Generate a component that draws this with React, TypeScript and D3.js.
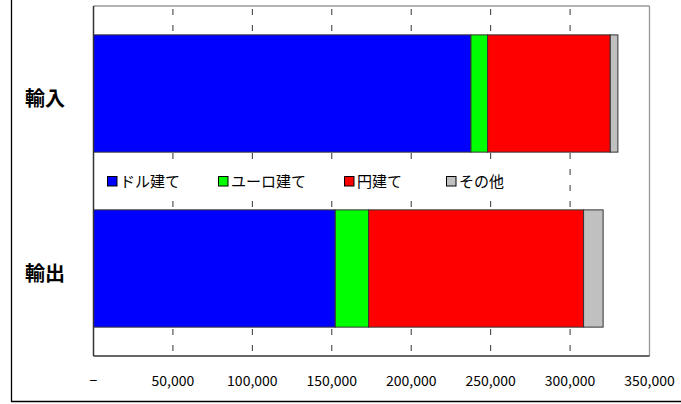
import React from "react";
import * as d3 from "d3";

const categories = ["輸入", "輸出"];
const seriesNames = ["ドル建て", "ユーロ建て", "円建て", "その他"];
const dollarValues = [237600, 152200];
const euroValues = [10500, 21000];
const yenValues = [77200, 135300];
const otherValues = [4800, 12300];
const seriesColors = ["#0000FF", "#00FF00", "#FF0000", "#C0C0C0"];
const tickValues = [0, 50000, 100000, 150000, 200000, 250000, 300000, 350000];

const W = 681;
const H = 404;
const M = { left: 93.5, right: 649.5, top: 6, bottom: 356 };
const FONT = "'Noto Sans CJK JP', 'Noto Sans', sans-serif";
const legendX = [107, 218, 344, 446];

export default function App() {
  const x = d3.scaleLinear().domain([0, 350000]).range([M.left, M.right]);
  const y = d3
    .scaleBand<string>()
    .domain(categories)
    .range([M.top, M.bottom])
    .paddingInner(0.33)
    .paddingOuter(0.165);

  const rows = categories.map((c, i) => ({
    cat: c,
    "ドル建て": dollarValues[i],
    "ユーロ建て": euroValues[i],
    "円建て": yenValues[i],
    "その他": otherValues[i],
  }));
  const stacked = d3.stack<any>().keys(seriesNames)(rows);
  const fmt = (v: number) => (v === 0 ? "−" : d3.format(",")(v));

  return (
    <svg
      width={W}
      height={H}
      style={{ position: "absolute", left: 0, top: 0, background: "#fff" }}
      fontFamily={FONT}
    >
      <rect x={0} y={0} width={W} height={H} fill="#fff" />
      {/* outer frame */}
      <line x1={11.5} y1={0} x2={11.5} y2={401.5} stroke="#000" strokeWidth={1.3} />
      <line x1={11} y1={401.5} x2={W} y2={401.5} stroke="#000" strokeWidth={1.3} />

      {/* gridlines */}
      {tickValues.slice(1, -1).map((t) => (
        <line
          key={t}
          x1={x(t)}
          x2={x(t)}
          y1={M.top}
          y2={M.bottom}
          stroke="#333"
          strokeWidth={1}
          strokeDasharray="6,10"
          strokeDashoffset={-3}
        />
      ))}

      {/* plot border */}
      <line x1={M.left} x2={M.right} y1={M.top} y2={M.top} stroke="#999" strokeWidth={1.3} />
      <line x1={M.right} x2={M.right} y1={M.top} y2={M.bottom} stroke="#999" strokeWidth={1.3} />

      {/* bars */}
      {stacked.map((s, si) =>
        s.map((d, i) => (
          <rect
            key={si + "-" + i}
            x={x(d[0])}
            y={y(categories[i])!}
            width={x(d[1]) - x(d[0])}
            height={y.bandwidth()}
            fill={seriesColors[si]}
            stroke="#333"
            strokeWidth={1}
          />
        ))
      )}

      {/* axes */}
      <line x1={M.left} x2={M.left} y1={M.top} y2={M.bottom} stroke="#333" strokeWidth={1.5} />
      <line x1={M.left} x2={M.right} y1={M.bottom} y2={M.bottom} stroke="#333" strokeWidth={1.5} />

      {/* x tick labels */}
      {tickValues.map((t) => (
        <text key={t} x={x(t)} y={386} textAnchor="middle" fontSize={14} fill="#000">
          {fmt(t)}
        </text>
      ))}

      {/* category labels */}
      {categories.map((c) => (
        <text
          key={c}
          x={25}
          y={y(c)! + y.bandwidth() / 2 + 12}
          fontSize={20}
          fontWeight="bold"
          fill="#000"
        >
          {c}
        </text>
      ))}

      {/* legend */}
      <rect x={99} y={163} width={425} height={34} fill="#fff" />
      {seriesNames.map((n, i) => (
        <g key={n} transform={`translate(${legendX[i]},176)`}>
          <rect x={0.5} y={0.5} width={9.5} height={9.5} fill={seriesColors[i]} stroke="#000" strokeWidth={1} />
          <text x={13} y={10.8} fontSize={15} fill="#000">
            {n}
          </text>
        </g>
      ))}
    </svg>
  );
}
